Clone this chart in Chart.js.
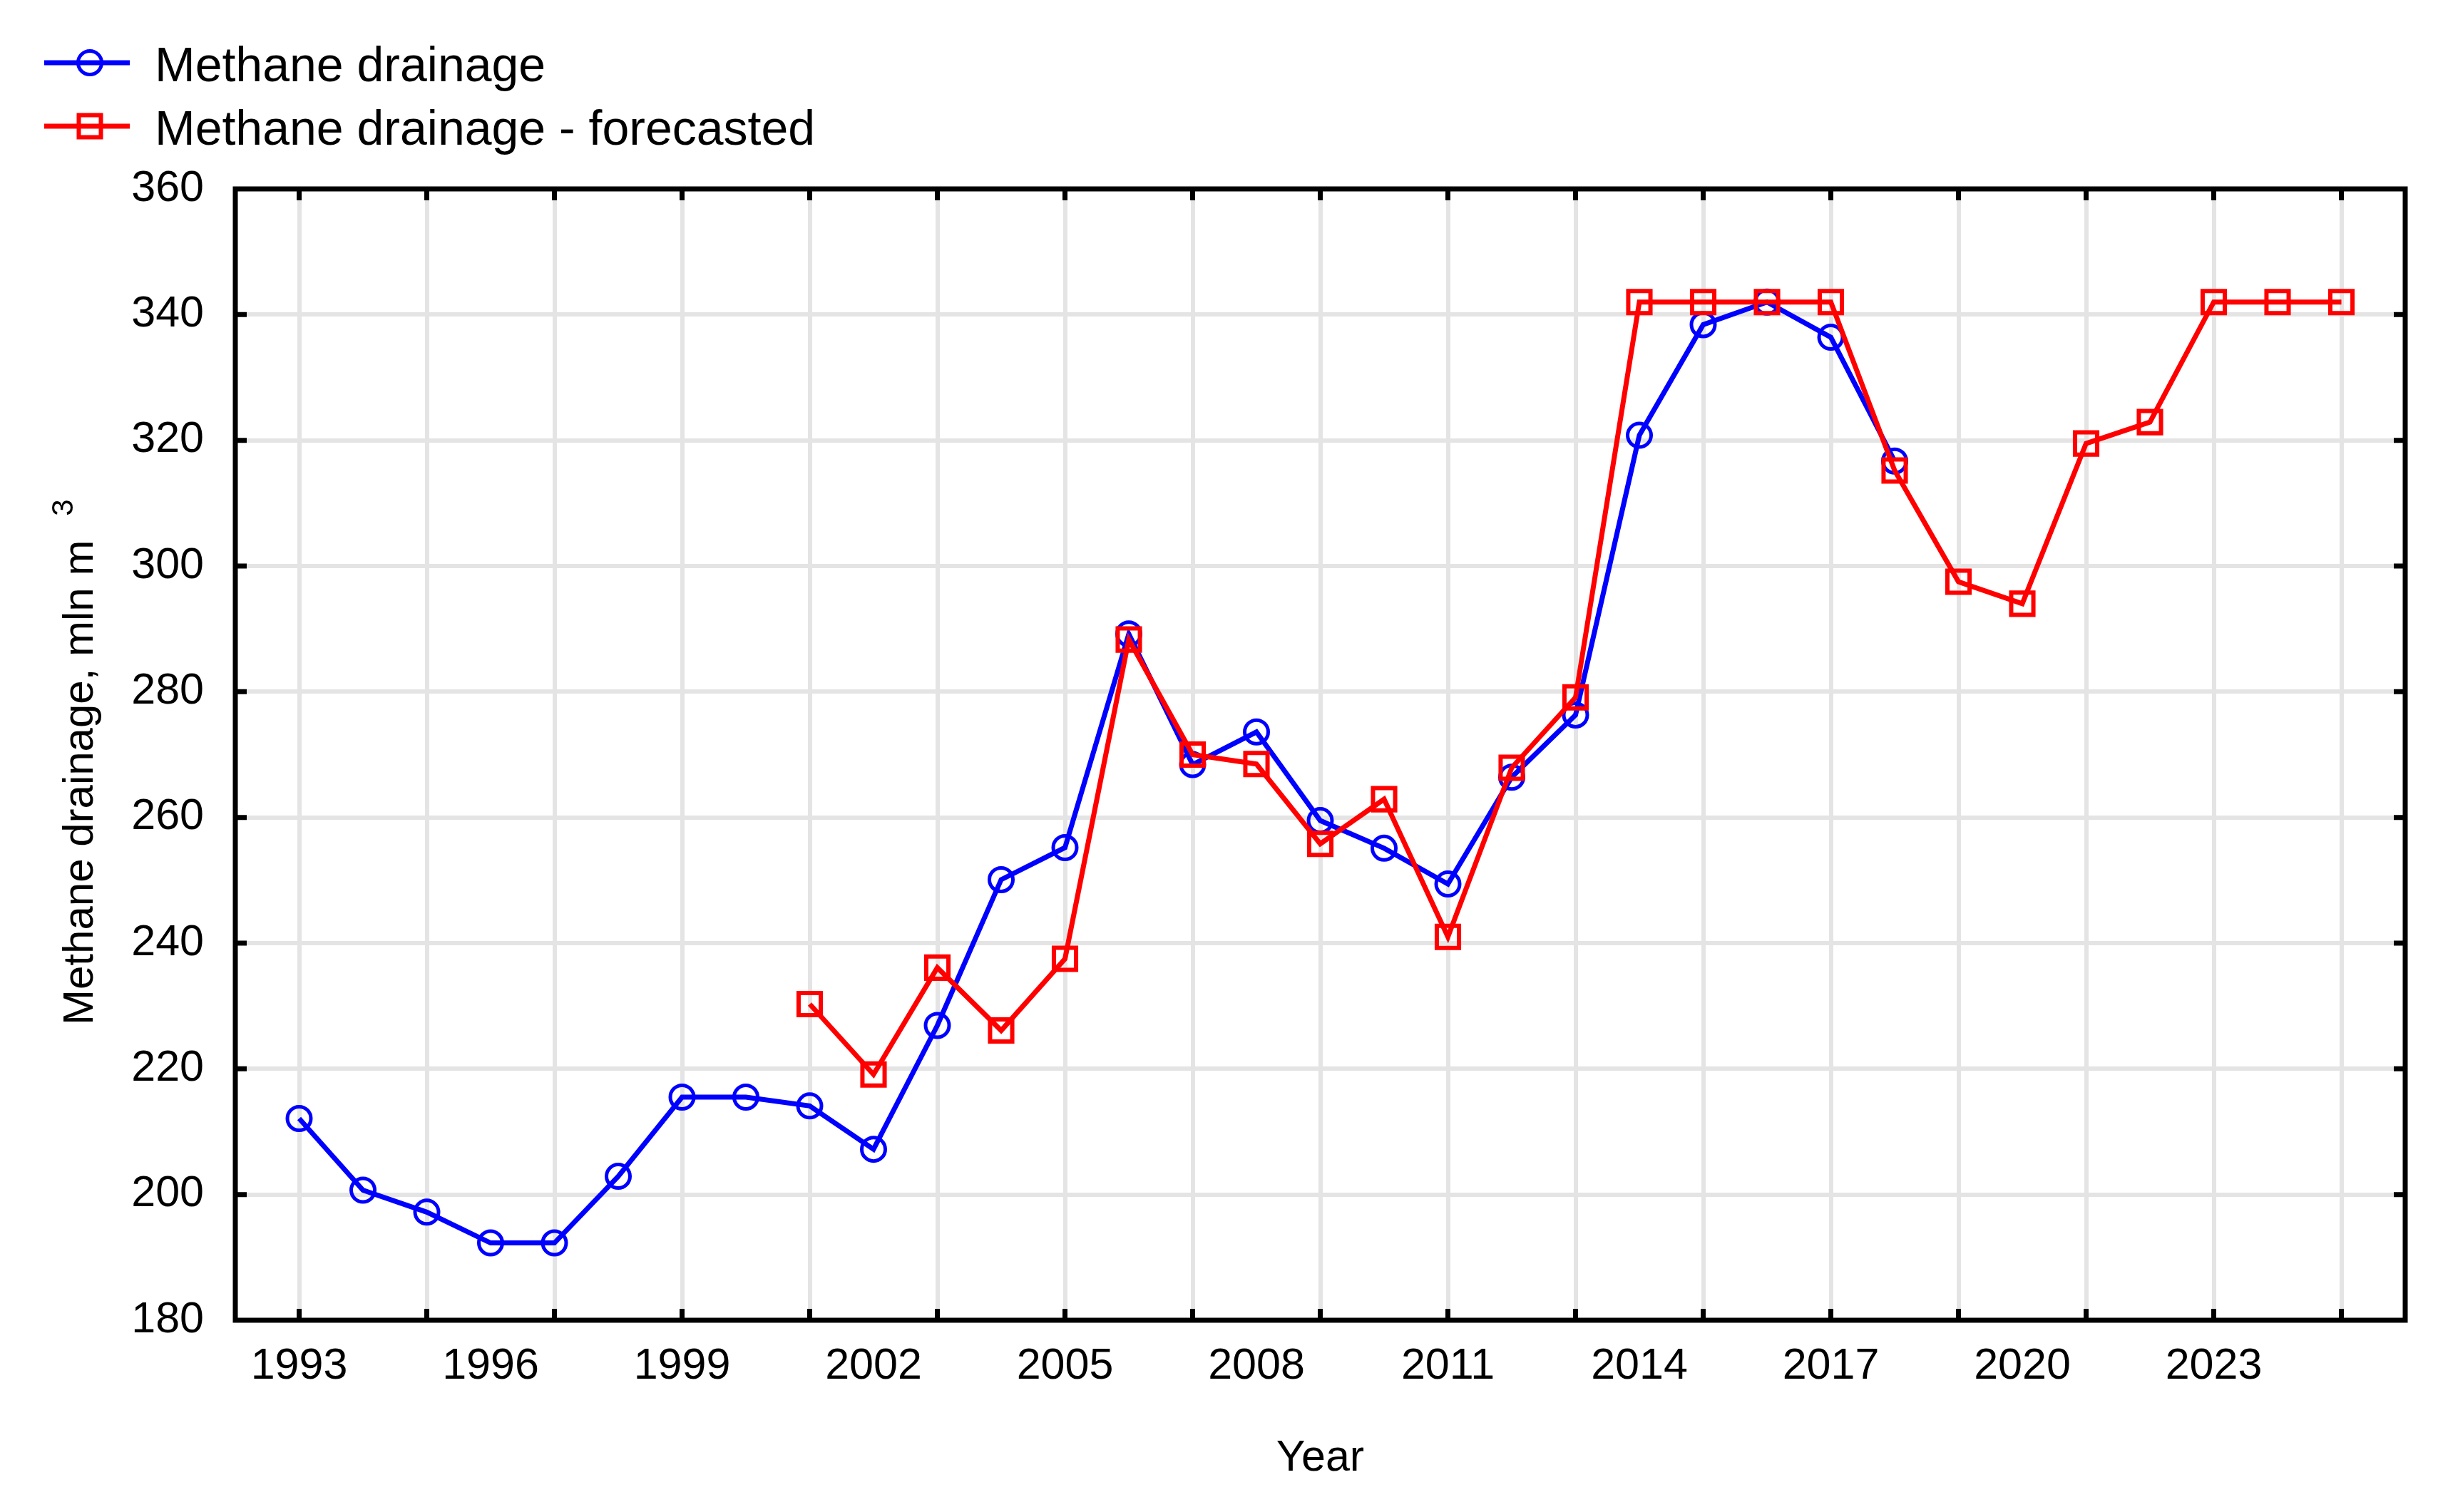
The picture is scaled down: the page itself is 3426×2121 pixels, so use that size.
<!DOCTYPE html>
<html>
<head>
<meta charset="utf-8">
<script src="https://cdn.jsdelivr.net/npm/chart.js@4.4.1/dist/chart.umd.min.js"></script>
<style>
html,body{margin:0;padding:0;background:#fff;}
canvas{display:block;}
</style>
</head>
<body>
<canvas id="c" width="3426" height="2121"></canvas>
<script>
// ---- data ----
const actualYears = [1993,1994,1995,1996,1997,1998,1999,2000,2001,2002,2003,2004,2005,2006,2007,2008,2009,2010,2011,2012,2013,2014,2015,2016,2017,2018];
const actualValues = [212.1,200.7,197.2,192.3,192.3,202.9,215.5,215.5,214.1,207.2,226.9,250.1,255.2,289.2,268.4,273.6,259.5,255.1,249.4,266.4,276.3,320.8,338.4,342.0,336.4,316.7];
const forecastYears = [2001,2002,2003,2004,2005,2006,2007,2008,2009,2010,2011,2012,2013,2014,2015,2016,2017,2018,2019,2020,2021,2022,2023,2024,2025];
const forecastValues = [230.3,219.1,236.1,226.1,237.5,288.3,270.0,268.5,255.8,262.9,241.0,267.9,279.1,342.0,342.0,342.0,342.0,315.2,297.5,294.0,319.5,322.9,342.0,342.0,342.0];
const xTickLabels = [1993,1996,1999,2002,2005,2008,2011,2014,2017,2020,2023];
const xGridYears = [1993,1995,1997,1999,2001,2003,2005,2007,2009,2011,2013,2015,2017,2019,2021,2023,2025];
const yTicks = [180,200,220,240,260,280,300,320,340,360];
const seriesNames = ['Methane drainage','Methane drainage - forecasted'];
const xTitle = 'Year';
const yTitleMain = 'Methane drainage, mln m';
const yTitleSup = '3';

const FONT = '"Liberation Sans", Arial, sans-serif';
const BLUE = '#0000ff', RED = '#ff0000', GRID = '#e4e4e4';

const toPts = (xs, ys) => xs.map((x, i) => ({x: x, y: ys[i]}));

const decor = {
  id: 'decor',
  beforeDraw(chart) {
    const c = chart.ctx;
    c.save(); c.fillStyle = '#fff'; c.fillRect(0, 0, chart.width, chart.height); c.restore();
  },
  afterDraw(chart) {
    const c = chart.ctx, a = chart.chartArea, xs = chart.scales.x, ys = chart.scales.y;
    c.save();
    // inward ticks
    c.strokeStyle = '#000'; c.lineWidth = 7; c.lineCap = 'butt';
    const TL = 16;
    c.beginPath();
    xGridYears.forEach(v => {
      const px = xs.getPixelForValue(v);
      c.moveTo(px, a.top); c.lineTo(px, a.top + TL);
      c.moveTo(px, a.bottom); c.lineTo(px, a.bottom - TL);
    });
    yTicks.forEach(v => {
      if (v <= ys.min || v >= ys.max) return;
      const py = ys.getPixelForValue(v);
      c.moveTo(a.left, py); c.lineTo(a.left + TL, py);
      c.moveTo(a.right, py); c.lineTo(a.right - TL, py);
    });
    c.stroke();
    // frame
    c.lineWidth = 7;
    c.strokeRect(a.left, a.top, a.right - a.left, a.bottom - a.top);

    // legend
    const items = [
      {name: seriesNames[0], color: BLUE, style: 'circle', y: 88, base: 114},
      {name: seriesNames[1], color: RED, style: 'rect', y: 177, base: 203}
    ];
    items.forEach(it => {
      c.strokeStyle = it.color; c.lineWidth = 7;
      c.beginPath(); c.moveTo(62, it.y); c.lineTo(182, it.y); c.stroke();
      if (it.style === 'circle') {
        c.lineWidth = 5;
        c.beginPath(); c.arc(126, it.y, 16.5, 0, Math.PI * 2); c.stroke();
      } else {
        c.lineWidth = 6;
        c.strokeRect(126 - 15.5, it.y - 15.5, 31, 31);
      }
      c.fillStyle = '#000';
      c.font = '68px ' + FONT;
      c.textAlign = 'left'; c.textBaseline = 'alphabetic';
      c.fillText(it.name, 217, it.base);
    });

    // y axis title with superscript
    c.save();
    c.translate(130, 1438);
    c.rotate(-Math.PI / 2);
    c.fillStyle = '#000';
    c.font = '60px ' + FONT;
    c.textAlign = 'left'; c.textBaseline = 'alphabetic';
    c.fillText(yTitleMain, 0, 0);
    const w = c.measureText(yTitleMain).width;
    c.font = '42px ' + FONT;
    c.fillText(yTitleSup, w + 34, -28);
    c.restore();

    c.restore();
  }
};

new Chart(document.getElementById('c'), {
  type: 'line',
  data: {
    datasets: [
      {
        label: seriesNames[0],
        data: toPts(actualYears, actualValues),
        borderColor: BLUE, borderWidth: 7,
        pointStyle: 'circle', pointRadius: 16.5, pointBorderWidth: 5,
        pointBorderColor: BLUE, pointBackgroundColor: 'rgba(0,0,0,0)',
        tension: 0, order: 1
      },
      {
        label: seriesNames[1],
        data: toPts(forecastYears, forecastValues),
        borderColor: RED, borderWidth: 7,
        pointStyle: 'rect', pointRadius: 22, pointBorderWidth: 6,
        pointBorderColor: RED, pointBackgroundColor: 'rgba(0,0,0,0)',
        tension: 0, order: 0
      }
    ]
  },
  options: {
    responsive: false,
    animation: false,
    devicePixelRatio: 1,
    layout: {padding: {top: 265, right: 53, left: 0, bottom: 0}},
    plugins: {legend: {display: false}, tooltip: {enabled: false}},
    scales: {
      x: {
        type: 'linear', min: 1992, max: 2026,
        afterFit(s) { s.height = 269; },
        border: {display: false},
        grid: {
          drawTicks: false, lineWidth: 6,
          color: ctx => (ctx.tick && xGridYears.includes(ctx.tick.value)) ? GRID : 'rgba(0,0,0,0)'
        },
        ticks: {
          stepSize: 1, autoSkip: false, maxRotation: 0, minRotation: 0,
          padding: 29, color: '#000', font: {family: FONT, size: 61},
          callback: v => xTickLabels.includes(v) ? String(v) : ''
        },
        title: {display: true, text: xTitle, color: '#000', font: {family: FONT, size: 61}, padding: {top: 0, bottom: 38}}
      },
      y: {
        type: 'linear', min: 180, max: 360,
        afterFit(s) { s.width = 330; },
        border: {display: false},
        grid: {
          drawTicks: false, lineWidth: 6,
          color: ctx => (ctx.tick && ctx.tick.value > 180 && ctx.tick.value < 360) ? GRID : 'rgba(0,0,0,0)'
        },
        afterBuildTicks(s) { s.ticks = yTicks.map(v => ({value: v})); },
        ticks: {
          padding: 44, color: '#000', font: {family: FONT, size: 61},
          callback: v => String(v)
        }
      }
    }
  },
  plugins: [decor]
});
</script>
</body>
</html>
